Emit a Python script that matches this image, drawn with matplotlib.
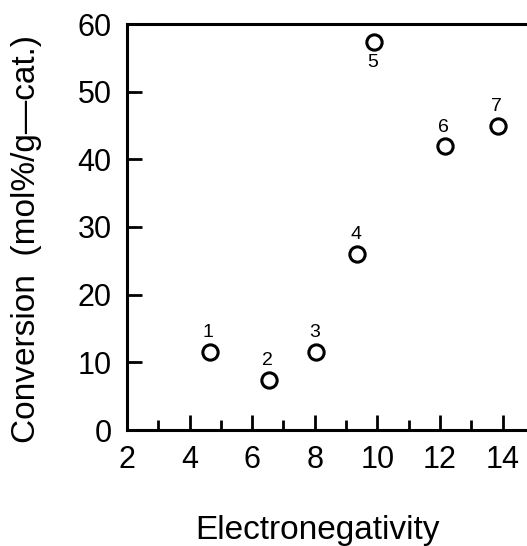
import matplotlib
matplotlib.use("Agg")
import matplotlib.pyplot as plt
from matplotlib.ticker import MultipleLocator

plt.rcParams['font.family'] = ['Liberation Sans', 'DejaVu Sans']

# Data
electronegativity = [4.64, 6.53, 8.03, 9.36, 9.89, 12.16, 13.86]
conversion = [11.5, 7.4, 11.5, 26.0, 57.4, 41.9, 44.9]
point_labels = ["1", "2", "3", "4", "5", "6", "7"]
label_below = [False, False, False, False, True, False, False]

xticks = [2, 4, 6, 8, 10, 12, 14]
yticks = [0, 10, 20, 30, 40, 50, 60]

W, H = 527, 546
fig = plt.figure(figsize=(W / 100, H / 100), dpi=100)
left, right, top, bottom = 127, 527, 24, 430
ax = fig.add_axes([left / W, 1 - bottom / H, (right - left) / W, (bottom - top) / H])

ax.plot(electronegativity, conversion, linestyle='none', marker='o', markersize=11,
        markerfacecolor='white', markeredgecolor='black', markeredgewidth=2.2, clip_on=False)

for x, y, lab, below in zip(electronegativity, conversion, point_labels, label_below):
    off = -15 if below else 14
    ax.annotate(lab, (x, y), xytext=(-1, off), textcoords='offset points',
                ha='center', va='center', fontsize=14)

ax.set_xlim(2, 14.78)
ax.set_ylim(0, 60)
ax.set_xticks(xticks)
ax.set_yticks(yticks)
ax.xaxis.set_minor_locator(MultipleLocator(1))
ax.tick_params(axis='x', which='major', direction='in', length=11, width=2, labelsize=22, pad=11)
ax.tick_params(axis='x', which='minor', direction='in', length=7, width=2)
ax.tick_params(axis='y', which='major', direction='in', length=11, width=2, labelsize=22, pad=11)
ax.tick_params(axis='y', which='minor', left=False)

for s in ['left', 'bottom', 'top']:
    ax.spines[s].set_linewidth(2.2)
ax.spines['right'].set_visible(False)

fig.text(317 / W, 1 - 530 / H, "Electronegativity", ha='center', va='center', fontsize=24)
fig.text(27 / W, 1 - 239 / H, "Conversion  (mol%/g\u2014cat.)", ha='center', va='center',
         rotation=90, fontsize=24)

fig.savefig("out.png", dpi=100)
